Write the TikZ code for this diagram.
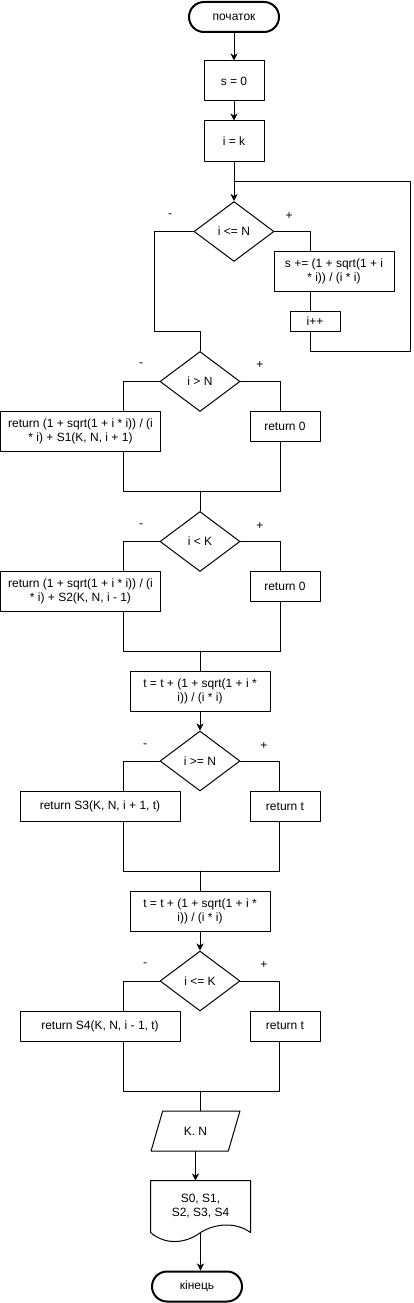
\documentclass[tikz,border=0pt]{standalone}
\usepackage{fontspec}
\setmainfont{Liberation Sans}
\usetikzlibrary{arrows.meta,shapes.geometric}

\begin{document}
\begin{tikzpicture}[line cap=round,line join=round,line width=1pt,>={Stealth[length=7pt,width=7pt,inset=2pt]},x=1pt,y=-1pt,
	every node/.style={font=\fontsize{12}{14}\selectfont},
	term/.style={draw,rectangle,rounded corners=15pt,line width=2pt,minimum width=90pt,minimum height=30pt,inner sep=0pt},
	blk/.style={draw,rectangle,inner sep=0pt,align=center},
	cond/.style={draw,diamond,minimum width=80pt,minimum height=60pt,inner sep=0pt},
	iobox/.style={draw,trapezium,trapezium left angle=63.4,trapezium right angle=116.6,trapezium stretches=true,minimum width=89pt,minimum height=40pt,inner sep=0pt},
	sgn/.style={inner sep=0pt}]
		\useasboundingbox (0,0) rectangle (413,1303);
		\node[term] (start) at (234,17) {початок};
		\node[blk,minimum width=60pt,minimum height=40pt] (s0) at (234,81) {s = 0};
		\node[blk,minimum width=60pt,minimum height=40pt] (ik) at (234,141) {i = k};
		\node[cond] (c1) at (234,231.5) {i <= N};
			\node[sgn] (c1m) at (170,216) {-};
			\node[sgn] (c1p) at (289,216) {+};
		\node[blk,minimum width=120pt,minimum height=40pt] (sum) at (334,271) {s += (1 + sqrt(1 + i\\* i)) / (i * i)};
		\node[blk,minimum width=50pt,minimum height=20pt] (inc) at (315,321) {i++};
		\draw[->] (start) -- (s0);
		\draw[->] (s0) -- (ik);
		\draw[->] (ik) -- (c1);
		\coordinate (lp1) at (310,351);
		\coordinate (lp2) at (410,181);
		\coordinate (lp3) at (154,331);
		\draw (c1.east) -| (sum.north -| lp1);
		\draw (sum.south -| lp1) -- (inc.north -| lp1);
		\draw (inc.south -| lp1) -- (lp1) -| (lp2) -- (lp2 -| ik);
		\node[cond] (c2) at (200,381.5) {i > N};
			\node[sgn] (c2m) at (141,365) {-};
			\node[sgn] (c2p) at (260,365) {+};
		\draw (c1.west) -| (lp3) -| (c2.north);
		\node[blk,minimum width=160pt,minimum height=40pt] (b2l) at (80.5,431) {return (1 + sqrt(1 + i * i)) / (i\\* i) + S1(K, N, i + 1)};
		\node[blk,minimum width=70pt,minimum height=30pt] (b2r) at (285,426) {return 0};
		\coordinate (j2l) at (123,491);
		\coordinate (j2r) at (280,491);
		\draw (c2.west) -| (b2l.north -| j2l);
		\draw (c2.east) -| (b2r.north -| j2r);
		\draw (b2l.south -| j2l) -- (j2l) -- (j2r) -- (b2r.south -| j2r);
		\node[cond] (c3) at (200,541.5) {i < K};
			\node[sgn] (c3m) at (141,526) {-};
			\node[sgn] (c3p) at (260,526) {+};
		\draw (j2l -| c2) -- (c3.north);
		\node[blk,minimum width=160pt,minimum height=40pt] (b3l) at (80.5,591) {return (1 + sqrt(1 + i * i)) / (i\\* i) + S2(K, N, i - 1)};
		\node[blk,minimum width=70pt,minimum height=30pt] (b3r) at (285,586) {return 0};
		\coordinate (j3l) at (123,651);
		\coordinate (j3r) at (280,651);
		\draw (c3.west) -| (b3l.north -| j3l);
		\draw (c3.east) -| (b3r.north -| j3r);
		\draw (b3l.south -| j3l) -- (j3l) -- (j3r) -- (b3r.south -| j3r);
		\node[blk,minimum width=140pt,minimum height=40pt] (t1) at (200,691) {t = t + (1 + sqrt(1 + i *\\i)) / (i * i)};
		\draw (j3l -| c3) -- (t1.north);
		\node[cond] (c4) at (200,761) {i >= N};
			\node[sgn] (c4m) at (145,746) {-};
			\node[sgn] (c4p) at (264,746) {+};
		\draw[->] (t1) -- (c4);
		\node[blk,minimum width=160pt,minimum height=30pt] (b4l) at (100,806.5) {return S3(K, N, i + 1, t)};
		\node[blk,minimum width=70pt,minimum height=30pt] (b4r) at (285,806.5) {return t};
		\coordinate (j4l) at (123,871);
		\coordinate (j4r) at (279,871);
		\draw (c4.west) -| (b4l.north -| j4l);
		\draw (c4.east) -| (b4r.north -| j4r);
		\draw (b4l.south -| j4l) -- (j4l) -- (j4r) -- (b4r.south -| j4r);
		\node[blk,minimum width=140pt,minimum height=40pt] (t2) at (200,911) {t = t + (1 + sqrt(1 + i *\\i)) / (i * i)};
		\draw (j4l -| c4) -- (t2.north);
		\node[cond] (c5) at (200,981) {i <= K};
			\node[sgn] (c5m) at (145,965) {-};
			\node[sgn] (c5p) at (264,965) {+};
		\draw[->] (t2) -- (c5);
		\node[blk,minimum width=160pt,minimum height=30pt] (b5l) at (100,1026) {return S4(K, N, i - 1, t)};
		\node[blk,minimum width=70pt,minimum height=30pt] (b5r) at (285,1026) {return t};
		\coordinate (j5l) at (123,1091);
		\coordinate (j5r) at (279,1091);
		\draw (c5.west) -| (b5l.north -| j5l);
		\draw (c5.east) -| (b5r.north -| j5r);
		\draw (b5l.south -| j5l) -- (j5l) -- (j5r) -- (b5r.south -| j5r);
		\node[iobox] (kn) at (195.5,1131) {K. N};
		\draw (j5l -| c5) -- (c5 |- kn.north);
		\node[align=center,minimum width=99pt,minimum height=51pt,inner sep=0pt] (doc) at (200.5,1206.5) {S0, S1,\\S2, S3, S4};
		\draw (doc.north west) -- (doc.north east) -- (doc.south east) .. controls +(-15,-11) and +(14.5,-9) .. (doc.south) .. controls +(-14.5,11) and +(15,13) .. (doc.south west) -- cycle;
		\draw[->] (kn.south) -- (kn.south |- doc.north);
		\node[term] (end) at (197,1286.5) {кінець};
		\draw[->] (doc.south) -- (doc.south |- end.north);
	\end{tikzpicture}
\end{document}
